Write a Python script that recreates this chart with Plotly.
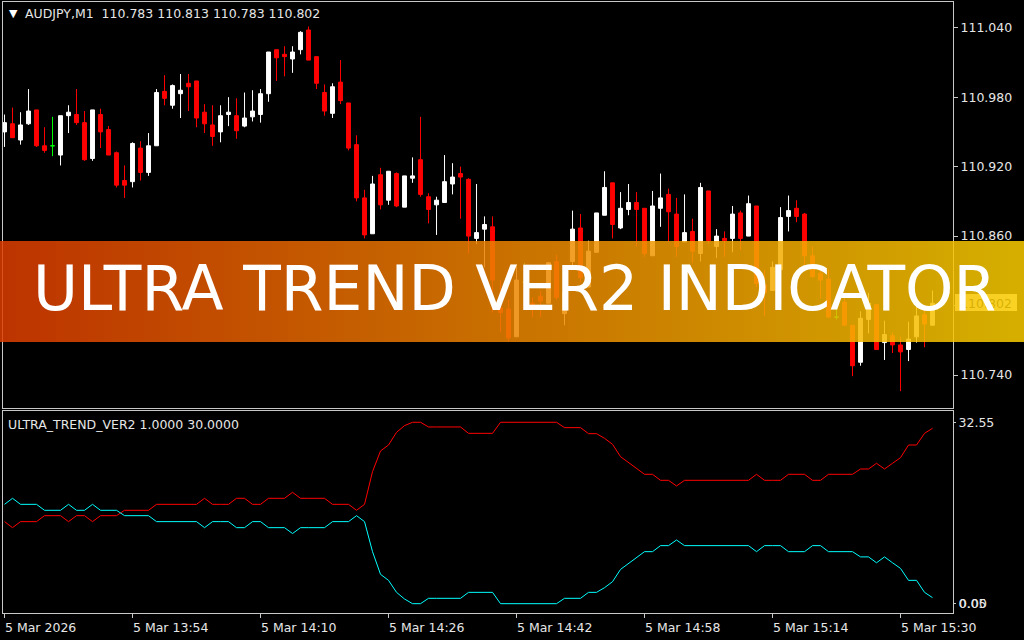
import plotly.graph_objects as go

# AUDJPY M1, one bar per minute from 13:38
opens = [110.950, 110.957, 110.943, 110.957, 110.969, 110.938, 110.938, 110.930, 110.964, 110.965,
         110.958, 110.927, 110.965, 110.952, 110.932, 110.908, 110.907, 110.936, 110.915, 110.938,
         110.985, 110.973, 110.983, 110.992, 110.994, 110.967, 110.956, 110.950, 110.965, 110.964,
         110.955, 110.963, 110.965, 110.983, 111.021, 111.017, 111.013, 111.021, 111.038, 111.015,
         110.984, 110.966, 110.993, 110.975, 110.939, 110.893, 110.862, 110.913, 110.891, 110.914,
         110.885, 110.910, 110.926, 110.894, 110.887, 110.889, 110.905, 110.914, 110.909, 110.858,
         110.866, 110.868, 110.798, 110.797, 110.773, 110.820, 110.802, 110.808, 110.802, 110.838,
         110.793, 110.838, 110.867, 110.816, 110.846, 110.878, 110.906, 110.867, 110.883, 110.889,
         110.884, 110.843, 110.884, 110.896, 110.879, 110.855, 110.864, 110.845, 110.899, 110.851,
         110.858, 110.858, 110.880, 110.860, 110.886, 110.818, 110.813, 110.831, 110.877, 110.884,
         110.879, 110.843, 110.828, 110.823, 110.790, 110.803, 110.783, 110.751, 110.788, 110.801,
         110.768, 110.774, 110.766, 110.762, 110.773, 110.792, 110.783]
highs = [110.965, 110.971, 110.967, 110.987, 110.969, 110.954, 110.963, 110.964, 110.973, 110.987,
         110.968, 110.969, 110.970, 110.955, 110.933, 110.921, 110.941, 110.942, 110.949, 110.987,
         110.999, 110.991, 111.000, 111.000, 110.994, 110.974, 110.973, 110.973, 110.980, 110.979,
         110.984, 110.986, 110.987, 111.019, 111.021, 111.024, 111.024, 111.037, 111.041, 111.015,
         110.991, 110.992, 111.012, 110.975, 110.947, 110.900, 110.912, 110.919, 110.916, 110.915,
         110.912, 110.928, 110.963, 110.897, 110.894, 110.930, 110.923, 110.920, 110.910, 110.905,
         110.877, 110.877, 110.822, 110.805, 110.836, 110.837, 110.807, 110.813, 110.837, 110.844,
         110.811, 110.882, 110.879, 110.856, 110.880, 110.916, 110.906, 110.898, 110.905, 110.898,
         110.884, 110.899, 110.914, 110.901, 110.893, 110.896, 110.875, 110.906, 110.899, 110.866,
         110.864, 110.886, 110.882, 110.895, 110.886, 110.831, 110.838, 110.885, 110.895, 110.891,
         110.880, 110.851, 110.835, 110.831, 110.803, 110.809, 110.783, 110.795, 110.811, 110.801,
         110.787, 110.777, 110.773, 110.786, 110.799, 110.798, 110.813]
lows = [110.937, 110.945, 110.939, 110.956, 110.937, 110.932, 110.929, 110.921, 110.949, 110.956,
        110.925, 110.925, 110.936, 110.930, 110.902, 110.893, 110.902, 110.908, 110.912, 110.938,
        110.973, 110.970, 110.962, 110.968, 110.954, 110.949, 110.938, 110.941, 110.955, 110.944,
        110.954, 110.959, 110.958, 110.976, 110.994, 110.998, 111.001, 111.017, 111.012, 110.987,
        110.964, 110.962, 110.974, 110.934, 110.890, 110.858, 110.862, 110.883, 110.887, 110.885,
        110.885, 110.906, 110.894, 110.871, 110.861, 110.889, 110.896, 110.875, 110.845, 110.853,
        110.833, 110.794, 110.777, 110.769, 110.773, 110.811, 110.790, 110.790, 110.802, 110.805,
        110.783, 110.833, 110.820, 110.816, 110.846, 110.878, 110.858, 110.866, 110.878, 110.851,
        110.842, 110.843, 110.868, 110.855, 110.842, 110.855, 110.837, 110.838, 110.853, 110.841,
        110.842, 110.846, 110.848, 110.860, 110.816, 110.791, 110.813, 110.831, 110.864, 110.872,
        110.833, 110.824, 110.806, 110.790, 110.788, 110.783, 110.739, 110.748, 110.776, 110.762,
        110.753, 110.759, 110.726, 110.752, 110.768, 110.764, 110.783]
closes = [110.958, 110.945, 110.956, 110.968, 110.938, 110.934, 110.938, 110.964, 110.967, 110.958,
          110.926, 110.969, 110.950, 110.930, 110.904, 110.904, 110.940, 110.915, 110.938, 110.984,
          110.979, 110.990, 110.986, 110.989, 110.962, 110.957, 110.946, 110.964, 110.967, 110.951,
          110.962, 110.968, 110.983, 111.019, 111.014, 111.015, 111.019, 111.036, 111.012, 110.992,
          110.968, 110.989, 110.977, 110.936, 110.893, 110.861, 110.905, 110.887, 110.916, 110.886,
          110.912, 110.912, 110.896, 110.883, 110.891, 110.907, 110.911, 110.911, 110.860, 110.863,
          110.870, 110.822, 110.794, 110.772, 110.822, 110.820, 110.799, 110.804, 110.837, 110.807,
          110.811, 110.866, 110.824, 110.847, 110.880, 110.902, 110.870, 110.884, 110.889, 110.883,
          110.845, 110.886, 110.893, 110.881, 110.851, 110.863, 110.847, 110.902, 110.856, 110.860,
          110.856, 110.879, 110.858, 110.888, 110.819, 110.811, 110.833, 110.876, 110.882, 110.877,
          110.843, 110.825, 110.822, 110.790, 110.790, 110.783, 110.748, 110.789, 110.802, 110.762,
          110.775, 110.766, 110.760, 110.771, 110.791, 110.784, 110.802]

# ULTRA_TREND_VER2 buffers
trend_red = [14.75, 13.67, 14.75, 14.75, 14.75, 15.82, 15.82, 15.82, 14.75, 15.82,
             15.82, 14.75, 15.82, 15.82, 15.82, 16.78, 16.78, 16.78, 16.78, 17.85,
             17.85, 17.85, 17.85, 17.85, 17.85, 18.93, 17.85, 17.85, 17.85, 18.93,
             18.93, 17.85, 17.85, 18.93, 18.93, 18.93, 20.00, 18.93, 18.93, 18.93,
             18.93, 17.85, 17.85, 17.85, 16.78, 17.85, 23.71, 27.41, 28.48, 30.75,
             31.95, 32.55, 32.55, 31.71, 31.71, 31.71, 31.71, 31.71, 30.57, 30.57,
             30.57, 30.57, 32.55, 32.55, 32.55, 32.55, 32.55, 32.55, 32.55, 32.55,
             31.59, 31.59, 31.59, 30.51, 30.51, 29.68, 28.60, 26.39, 25.38, 24.30,
             23.23, 23.23, 22.15, 22.15, 21.14, 22.15, 22.15, 22.15, 22.15, 22.15,
             22.15, 22.15, 22.15, 22.15, 23.23, 22.15, 22.15, 22.15, 23.23, 23.23,
             23.23, 22.15, 22.15, 23.23, 23.23, 23.23, 23.23, 24.18, 24.18, 25.20,
             24.18, 25.20, 26.21, 28.48, 28.48, 30.57, 31.47]
trend_cyan = [17.85, 18.93, 17.85, 17.85, 17.85, 16.78, 16.78, 16.78, 17.85, 16.78,
              16.78, 17.85, 16.78, 16.78, 16.78, 15.82, 15.82, 15.82, 15.82, 14.75,
              14.75, 14.75, 14.75, 14.75, 14.75, 13.67, 14.75, 14.75, 14.75, 13.67,
              13.67, 14.75, 14.75, 13.67, 13.67, 13.67, 12.62, 13.67, 13.67, 13.67,
              13.67, 14.75, 14.75, 14.75, 15.82, 14.75, 9.37, 5.31, 4.23, 2.08,
              0.89, 0.05, 0.05, 1.01, 1.01, 1.01, 1.01, 1.01, 2.08, 2.08,
              2.08, 2.08, 0.05, 0.05, 0.05, 0.05, 0.05, 0.05, 0.05, 0.05,
              1.01, 1.01, 1.01, 2.08, 2.08, 2.92, 3.99, 6.19, 7.20, 8.31,
              9.37, 9.37, 10.45, 10.45, 11.46, 10.45, 10.45, 10.45, 10.45, 10.45,
              10.45, 10.45, 10.45, 10.45, 9.37, 10.45, 10.45, 10.45, 9.37, 9.37,
              9.37, 10.45, 10.45, 9.37, 9.37, 9.37, 9.37, 8.43, 8.43, 7.38,
              8.43, 7.38, 6.37, 4.23, 4.23, 2.08, 1.13]

time_tick_bars = [0, 16, 32, 48, 64, 80, 96, 112]
time_labels = ["5 Mar 2026", "5 Mar 13:54", "5 Mar 14:10", "5 Mar 14:26",
               "5 Mar 14:42", "5 Mar 14:58", "5 Mar 15:14", "5 Mar 15:30"]
price_ticks = [110.740, 110.800, 110.860, 110.920, 110.980, 111.040]
ind_ticks = [0.05, 32.55]

bars = list(range(len(opens)))
W, H = 1024, 640
TXT = "#E6E6E6"
FRAME = "#C8C8C8"
MT_FONT = dict(family="DejaVu Sans", size=12.5, color=TXT)

fig = go.Figure()

# regular candles and doji crosses (open == close drawn green, like MT4)
body = [i for i in bars if opens[i] != closes[i]]
doji = [i for i in bars if opens[i] == closes[i]]
fig.add_trace(go.Candlestick(
    x=body, open=[opens[i] for i in body], high=[highs[i] for i in body],
    low=[lows[i] for i in body], close=[closes[i] for i in body],
    increasing=dict(line=dict(color="white", width=1), fillcolor="white"),
    decreasing=dict(line=dict(color="#FF0000", width=1), fillcolor="#FF0000"),
    whiskerwidth=0, xaxis="x", yaxis="y", hoverinfo="skip",
))
fig.add_trace(go.Candlestick(
    x=doji, open=[opens[i] for i in doji], high=[highs[i] for i in doji],
    low=[lows[i] for i in doji], close=[closes[i] for i in doji],
    increasing=dict(line=dict(color="#00FF00", width=1), fillcolor="#00FF00"),
    decreasing=dict(line=dict(color="#00FF00", width=1), fillcolor="#00FF00"),
    whiskerwidth=0, xaxis="x", yaxis="y", hoverinfo="skip",
))

fig.add_trace(go.Scatter(x=bars, y=trend_red, mode="lines", line=dict(color="#FF0000", width=1),
                         xaxis="x2", yaxis="y2", hoverinfo="skip"))
fig.add_trace(go.Scatter(x=bars, y=trend_cyan, mode="lines", line=dict(color="#00FFFF", width=1),
                         xaxis="x2", yaxis="y2", hoverinfo="skip"))

x_dom = [3 / W, 953 / W]
x_rng = [-0.19, 118.56]
axis_common = dict(showgrid=False, zeroline=False, showline=True, mirror=True,
                   linecolor=FRAME, linewidth=1)

# 110.800 sits behind the live price box, so its label stays empty
price_text = ["" if abs(v - closes[-1]) < 0.01 else f"{v:.3f}" for v in price_ticks]

fig.update_layout(
    width=W, height=H, margin=dict(l=0, r=0, t=0, b=0),
    paper_bgcolor="black", plot_bgcolor="black", showlegend=False,
    xaxis=dict(domain=x_dom, range=x_rng, anchor="y", showticklabels=False, ticks="",
               rangeslider=dict(visible=False), **axis_common),
    yaxis=dict(domain=[1 - 408 / H, 1 - 2 / H], range=[110.7115, 111.0622], side="right",
               anchor="x", tickvals=price_ticks, ticktext=price_text,
               ticks="outside", ticklen=4, tickcolor=FRAME, tickfont=MT_FONT, **axis_common),
    xaxis2=dict(domain=x_dom, range=x_rng, anchor="y2", matches="x",
                tickvals=time_tick_bars, showticklabels=False,
                ticks="outside", ticklen=4, tickcolor=FRAME, **axis_common),
    yaxis2=dict(domain=[1 - 613 / H, 1 - 411 / H], range=[-1.62, 34.57], side="right",
                anchor="x2", tickvals=ind_ticks, ticktext=[f"{v:.2f}" for v in ind_ticks],
                ticks="outside", ticklen=2, tickcolor=FRAME, tickfont=MT_FONT, **axis_common),
)

# time labels, left aligned on their tick like MT4
for b, lab in zip(time_tick_bars, time_labels):
    fig.add_annotation(x=b, y=1 - 618 / H, xref="x2", yref="paper", text=lab,
                       showarrow=False, xanchor="left", yanchor="top", xshift=-2, font=MT_FONT)

# MT4 prints the two lowest levels on top of each other
fig.add_annotation(x=957 / W, y=0.05, xref="paper", yref="y2", text="0.00", showarrow=False,
                   xanchor="left", yanchor="middle", font=MT_FONT)

# header lines
fig.add_annotation(x=7 / W, y=1 - 14 / H, xref="paper", yref="paper", text="▼", showarrow=False,
                   xanchor="left", yanchor="middle", font=dict(family="DejaVu Sans", size=11, color="white"))
header = f"AUDJPY,M1  {opens[-1]:.3f} {highs[-1]:.3f} {lows[-1]:.3f} {closes[-1]:.3f}"
fig.add_annotation(x=23 / W, y=1 - 14 / H, xref="paper", yref="paper", text=header, showarrow=False,
                   xanchor="left", yanchor="middle", font=MT_FONT)
fig.add_annotation(x=6 / W, y=1 - 424 / H, xref="paper", yref="paper",
                   text="ULTRA_TREND_VER2 1.0000 30.0000", showarrow=False,
                   xanchor="left", yanchor="middle", font=MT_FONT)

# current price label on the axis (sits under the banner)
fig.add_shape(type="rect", xref="paper", yref="paper", x0=955 / W, x1=1017 / W,
              y0=1 - 311 / H, y1=1 - 294 / H, fillcolor="#F2F2F2", line_width=0, layer="above",
              label=dict(text=f"{closes[-1]:.3f}", font=dict(family="DejaVu Sans", size=12.5, color="#202020")))

# banner: horizontal gradient built from thin strips, semi transparent
left_rgb = (222, 60, 0)
right_rgb = (250, 206, 0)
n_strips = 128
for k in range(n_strips):
    t = (k + 0.5) / n_strips
    r, g, b_ = (round(a + (c - a) * t) for a, c in zip(left_rgb, right_rgb))
    fig.add_shape(type="rect", xref="paper", yref="paper", x0=k / n_strips, x1=(k + 1) / n_strips,
                  y0=1 - 342 / H, y1=1 - 241 / H, fillcolor=f"rgb({r},{g},{b_})", opacity=0.85,
                  line_width=0, layer="above")

fig.add_annotation(x=514 / W, y=1 - 289 / H, xref="paper", yref="paper",
                   text="ULTRA TREND VER2 INDICATOR", showarrow=False,
                   xanchor="center", yanchor="middle",
                   font=dict(family="DejaVu Sans", size=61.5, color="white"))

# the page body has a default 8px margin; drop it so the figure fills the window
fig.write_html("out.html", config={"displayModeBar": False},
               post_script="document.body.style.margin='0px';")
